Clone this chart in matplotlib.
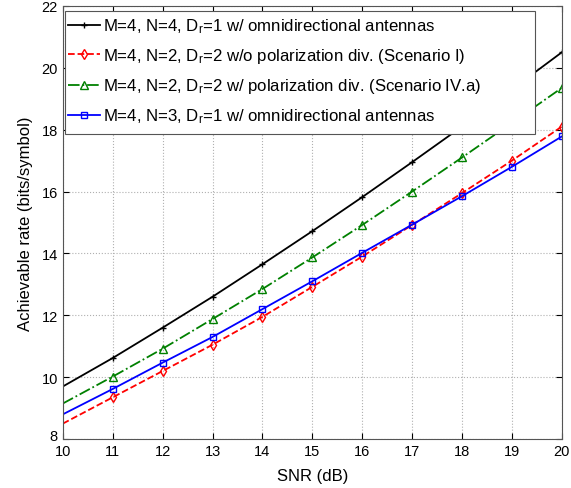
import matplotlib
matplotlib.use("Agg")
import matplotlib.pyplot as plt
import matplotlib.transforms as mtrans
from matplotlib import font_manager
from matplotlib.patches import Rectangle

plt.rcParams['font.family'] = ['Liberation Sans', 'DejaVu Sans']
plt.rcParams['mathtext.fontset'] = 'custom'

names = sorted({f.name for f in font_manager.fontManager.ttflist})
narrow = 'Liberation Sans Narrow' if 'Liberation Sans Narrow' in names else 'Liberation Sans'
plt.rcParams['mathtext.rm'] = narrow
plt.rcParams['mathtext.it'] = narrow

snr = [10, 11, 12, 13, 14, 15, 16, 17, 18, 19, 20]
rate_n4 = [9.7, 10.62, 11.6, 12.6, 13.65, 14.72, 15.82, 16.95, 18.1, 19.3, 20.5]
rate_pol_none = [8.5, 9.35, 10.2, 11.05, 11.95, 12.92, 13.9, 14.92, 15.95, 17.0, 18.1]
rate_pol_div = [9.15, 10.02, 10.92, 11.88, 12.85, 13.87, 14.92, 16.0, 17.1, 18.22, 19.35]
rate_n3 = [8.8, 9.62, 10.47, 11.3, 12.2, 13.1, 14.02, 14.93, 15.85, 16.8, 17.78]

labels = [
    r'M=4, N=4, D$_\mathregular{r}$=1 w/ omnidirectional antennas',
    r'M=4, N=2, D$_\mathregular{r}$=2 w/o polarization div. (Scenario I)',
    r'M=4, N=2, D$_\mathregular{r}$=2 w/ polarization div. (Scenario IV.a)',
    r'M=4, N=3, D$_\mathregular{r}$=1 w/ omnidirectional antennas',
]

fig = plt.figure(figsize=(5.71, 4.89), dpi=100)
ax = fig.add_axes([0.110, 0.100, 0.874, 0.886])

me = list(range(1, len(snr)))
ax.plot(snr, rate_n4, color='black', linestyle='-', marker='+', markersize=5, lw=1.3, markevery=me, label=labels[0])
ax.plot(snr, rate_pol_none, color='red', linestyle='--', marker='d', markersize=5, mfc='none', lw=1.3, markevery=me, label=labels[1])
ax.plot(snr, rate_pol_div, color='#008000', linestyle='-.', marker='^', markersize=6, mfc='none', lw=1.3, markevery=me, label=labels[2])
ax.plot(snr, rate_n3, color='blue', linestyle='-', marker='s', markersize=5, mfc='none', lw=1.3, markevery=me, label=labels[3])

ax.set_xlim(10, 20)
ax.set_ylim(8, 22)
ax.set_xticks(range(10, 21))
ax.set_yticks(range(8, 23, 2))
ax.grid(True, linestyle=':', color='#b0b0b0', lw=0.8)
ax.tick_params(direction='in', top=True, right=True, labelsize=10.5, length=4)
for s in ax.spines.values():
    s.set_color('#555555')
    s.set_linewidth(0.8)
ax.set_xlabel('SNR (dB)', fontsize=12, labelpad=7)
ax.set_ylabel('Achievable rate (bits/symbol)', fontsize=12, labelpad=6)

# nudge the lowest y tick label up slightly so it doesn't collide with the x "10"
ylbl = ax.get_yticklabels()[0]
ylbl.set_transform(ylbl.get_transform() + mtrans.ScaledTranslation(0, 3/72, fig.dpi_scale_trans))

# legend frame (MATLAB style with extra right padding)
frame = Rectangle((0.004, 0.704), 0.942, 0.284, transform=ax.transAxes,
                  facecolor='white', edgecolor='#555555', lw=0.8, zorder=4)
ax.add_patch(frame)
leg = ax.legend(loc='upper left', bbox_to_anchor=(0.0, 0.987),
                prop={'family': narrow, 'size': 12.1}, frameon=False,
                borderaxespad=0.0, handlelength=1.9, handletextpad=0.2,
                labelspacing=0.66, borderpad=0.3)
leg.set_zorder(5)

fig.savefig('out.png', dpi=100)
